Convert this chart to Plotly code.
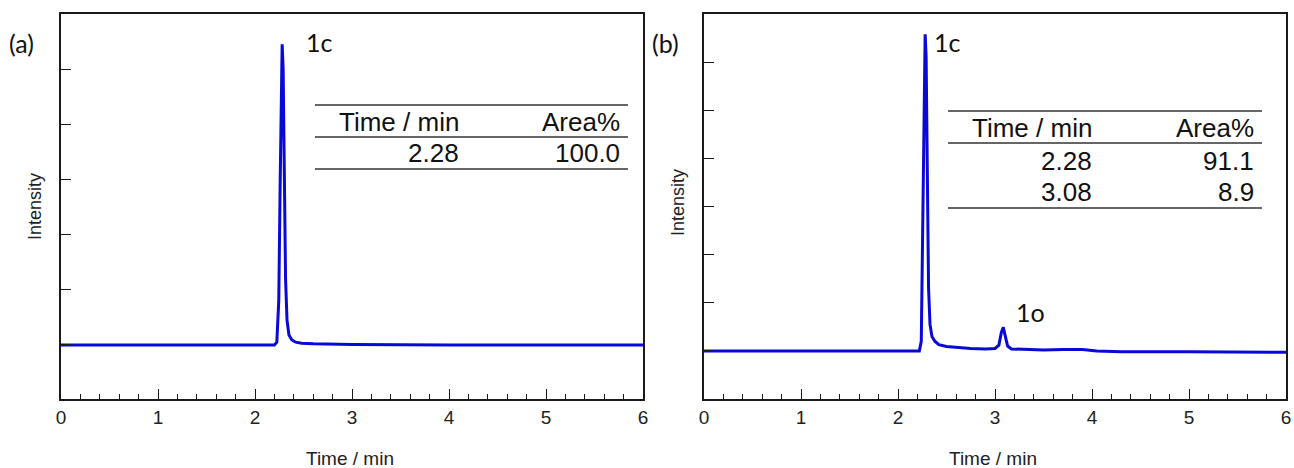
import plotly.graph_objects as go

# ---------------- data ----------------
time_a = [0.0, 0.5, 1.0, 1.5, 2.0, 2.20, 2.225, 2.245, 2.26, 2.272, 2.28, 2.29, 2.302, 2.315,
          2.33, 2.35, 2.38, 2.42, 2.48, 2.6, 3.0, 3.5, 4.0, 4.5, 5.0, 5.5, 6.0]
int_a = [0.0, 0.0, 0.0, 0.0, 0.0, 0.0, 0.05, 0.8, 3.0, 5.2, 5.45, 5.0, 2.8, 1.2,
         0.45, 0.18, 0.09, 0.05, 0.03, 0.02, 0.01, 0.0, 0.0, 0.0, 0.0, 0.0, 0.0]

time_b = [0.0, 0.5, 1.0, 1.5, 2.0, 2.22, 2.24, 2.255, 2.268, 2.28, 2.29, 2.302, 2.315, 2.33,
          2.35, 2.38, 2.42, 2.5, 2.6, 2.75, 2.9, 3.0, 3.04, 3.065, 3.085, 3.105, 3.13,
          3.17, 3.3, 3.5, 3.7, 3.9, 4.05, 4.3, 5.0, 5.5, 6.0]
int_b = [0.0, 0.0, 0.0, 0.0, 0.0, 0.0, 0.2, 2.6, 5.9, 6.58, 6.1, 3.2, 1.3, 0.55,
         0.3, 0.2, 0.13, 0.09, 0.07, 0.05, 0.04, 0.05, 0.12, 0.38, 0.49, 0.32, 0.1,
         0.04, 0.03, 0.02, 0.03, 0.03, 0.0, -0.02, -0.02, -0.02, -0.03]

x_ticks = [0, 1, 2, 3, 4, 5, 6]
y_ticks_a = [0, 1, 2, 3, 4, 5]
y_ticks_b = [0, 1, 2, 3, 4, 5, 6]

table_header = ["Time / min", "Area%"]
table_a_time = ["2.28"]
table_a_area = ["100.0"]
table_b_time = ["2.28", "3.08"]
table_b_area = ["91.1", "8.9"]

peak_labels_a = [("1c", 2.28)]
peak_labels_b = [("1c", 2.28), ("1o", 3.08)]

# ---------------- layout helpers ----------------
W, H = 1294, 468


def px(x):
    return x / W


def py(y):
    return 1 - y / H


LINE = "rgb(8,8,215)"
AX = "#1a1a1a"
TICKFONT = dict(family="Liberation Sans, Arial, sans-serif", size=19, color="#222")
LABFONT = dict(family="Lato, Open Sans, sans-serif", size=25, color="#111")
TABFONT = dict(family="Liberation Sans, Arial, sans-serif", size=26, color="#111")

fig = go.Figure()
fig.add_trace(go.Scatter(x=time_a, y=int_a, mode="lines", xaxis="x", yaxis="y",
                         line=dict(color=LINE, width=3), showlegend=False))
fig.add_trace(go.Scatter(x=time_b, y=int_b, mode="lines", xaxis="x2", yaxis="y2",
                         line=dict(color=LINE, width=3), showlegend=False))

xa = dict(range=[0, 6], tickvals=x_ticks, ticks="inside", ticklen=10, tickwidth=1.3,
          tickcolor=AX, showline=True, linecolor=AX, linewidth=1.8, mirror=True,
          showgrid=False, zeroline=False, tickfont=TICKFONT, automargin=False,
          minor=dict(dtick=0.2, ticks="inside", ticklen=5, tickwidth=1.2, tickcolor=AX,
                     showgrid=False))
ya = dict(ticks="inside", ticklen=10, tickwidth=1.3, tickcolor=AX, showline=True,
          linecolor=AX, linewidth=1.8, mirror=True, showgrid=False, zeroline=False,
          showticklabels=False, automargin=False)

ydom = [py(399), py(14)]
fig.update_layout(
    width=W, height=H, margin=dict(l=0, r=0, t=0, b=0),
    paper_bgcolor="white", plot_bgcolor="white",
    xaxis=dict(xa, domain=[px(61), px(643)], anchor="y"),
    yaxis=dict(ya, domain=ydom, range=[-0.98, 6.0], tickvals=y_ticks_a, anchor="x"),
    xaxis2=dict(xa, domain=[px(704), px(1286)], anchor="y2"),
    yaxis2=dict(ya, domain=ydom, range=[-1, 7], tickvals=y_ticks_b, anchor="x2"),
)

ann = []
shapes = []
AXTITLE = dict(family="Liberation Sans, Arial, sans-serif", size=19, color="#222")
for cx in (350, 993):
    ann.append(dict(text="Time / min", x=px(cx), y=py(458), xref="paper", yref="paper",
                    showarrow=False, font=AXTITLE, xanchor="center", yanchor="middle"))
for cx, cy in ((35, 207), (678, 203)):
    ann.append(dict(text="Intensity", x=px(cx), y=py(cy), xref="paper", yref="paper",
                    showarrow=False, font=dict(AXTITLE, size=18), textangle=-90,
                    xanchor="center", yanchor="middle"))
# panel letters
ann.append(dict(text="(a)", x=px(7), y=py(43), xref="paper", yref="paper", showarrow=False,
                font=LABFONT, xanchor="left", yanchor="middle"))
ann.append(dict(text="(b)", x=px(650), y=py(43), xref="paper", yref="paper", showarrow=False,
                font=LABFONT, xanchor="left", yanchor="middle"))
# peak labels (data x, pixel y)
for (lab, t), y0 in zip(peak_labels_a, [42]):
    ann.append(dict(text=lab, x=t, xshift=22, y=py(y0), xref="x", yref="paper",
                    showarrow=False, font=LABFONT, xanchor="left", yanchor="middle"))
for (lab, t), y0 in zip(peak_labels_b, [42, 312]):
    ann.append(dict(text=lab, x=t, xshift=7 if lab == "1c" else 11, y=py(y0), xref="x2",
                    yref="paper", showarrow=False, font=LABFONT, xanchor="left",
                    yanchor="middle"))


def add_table(x0, x1, xc1, xc2, line_ys, row_ys, times, areas):
    for ly in line_ys:
        shapes.append(dict(type="line", xref="paper", yref="paper", x0=px(x0), x1=px(x1),
                           y0=py(ly), y1=py(ly), line=dict(color="#333", width=1.6)))
    ann.append(dict(text=table_header[0], x=px(xc1), y=py(row_ys[0]), xref="paper",
                    yref="paper", showarrow=False, font=TABFONT, xanchor="right",
                    yanchor="middle"))
    ann.append(dict(text=table_header[1], x=px(xc2), y=py(row_ys[0]), xref="paper",
                    yref="paper", showarrow=False, font=TABFONT, xanchor="right",
                    yanchor="middle"))
    for t, a, ry in zip(times, areas, row_ys[1:]):
        ann.append(dict(text=t, x=px(xc1), y=py(ry), xref="paper", yref="paper",
                        showarrow=False, font=TABFONT, xanchor="right", yanchor="middle"))
        ann.append(dict(text=a, x=px(xc2), y=py(ry), xref="paper", yref="paper",
                        showarrow=False, font=TABFONT, xanchor="right", yanchor="middle"))


add_table(315, 628, 461, 622, [105, 137, 169], [122, 153], table_a_time, table_a_area)
add_table(948, 1262, 1094, 1256, [111, 143, 208], [128, 161, 192], table_b_time, table_b_area)

fig.update_layout(annotations=ann, shapes=shapes)
fig.write_html("out.html")
